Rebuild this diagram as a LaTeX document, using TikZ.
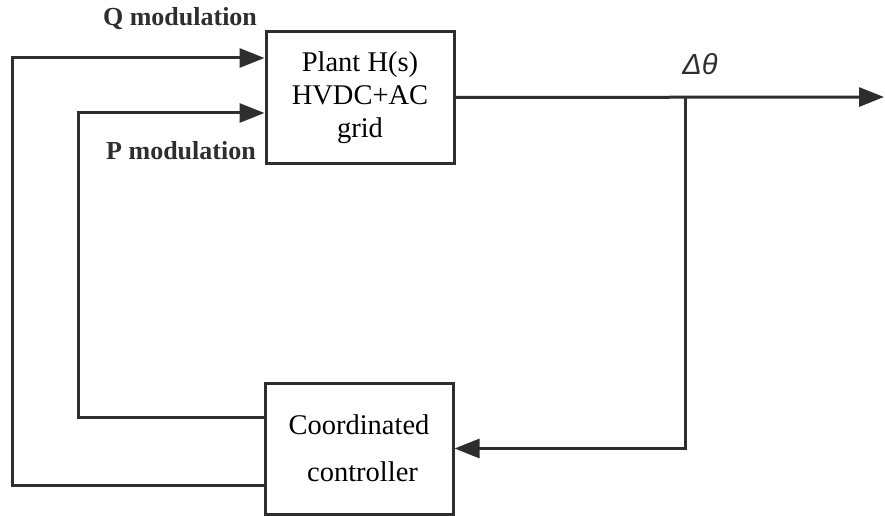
\documentclass[tikz,border=0pt]{standalone}
\usepackage{fontspec}
\setmainfont{Liberation Serif}
\newfontfamily\dsans{Liberation Sans}
\usepackage{xcolor}
\usetikzlibrary{arrows.meta,positioning,calc}
\definecolor{ln}{HTML}{2E2E2E}
\tikzset{
	blk/.style={draw=ln, line width=3pt, minimum width=188pt, minimum height=131pt,
		align=center, inner sep=0pt, font=\fontsize{28.5}{33}\selectfont},
	lbl/.style={font=\fontsize{26}{29}\selectfont\bfseries, text=ln, inner sep=0pt},
	wire/.style={draw=ln, line width=3pt},
}

\begin{document}
\begin{tikzpicture}[x=1pt, y=-1pt, >={Triangle[length=25pt, width=19pt]}]
	\useasboundingbox (0,0) rectangle (885,516);
	\node[blk] at (360,97.5) (plant) {Plant H(s)\\HVDC+AC\\grid};
	\node[blk] at (359,448.5) (ctrl) {Coordinated\\[14pt]\hspace*{7pt}controller};
	\node[lbl, anchor=base] at (180,26) (qlbl) {Q modulation};
	\node[lbl, anchor=base] at (181,159) (plbl) {P modulation};
	\node[font=\fontsize{29}{32}\selectfont\dsans\itshape, text=ln, anchor=base] at (700,75) (dth) {Δθ};
	\coordinate (br) at (685,97);
	\coordinate (out) at (884,97);
	% feedback paths
	\draw[wire, ->] ([yshift=-36.5pt]ctrl.west) -| (12,58) -- ([yshift=39.5pt]plant.west);
	\draw[wire, ->] ([yshift=31.5pt]ctrl.west) -| (78,113) -- ([yshift=-15.5pt]plant.west);
	\draw[wire, ->] (plant.east) -- (out);
	\draw[wire, ->] (br) |- (ctrl.east);
\end{tikzpicture}
\end{document}
